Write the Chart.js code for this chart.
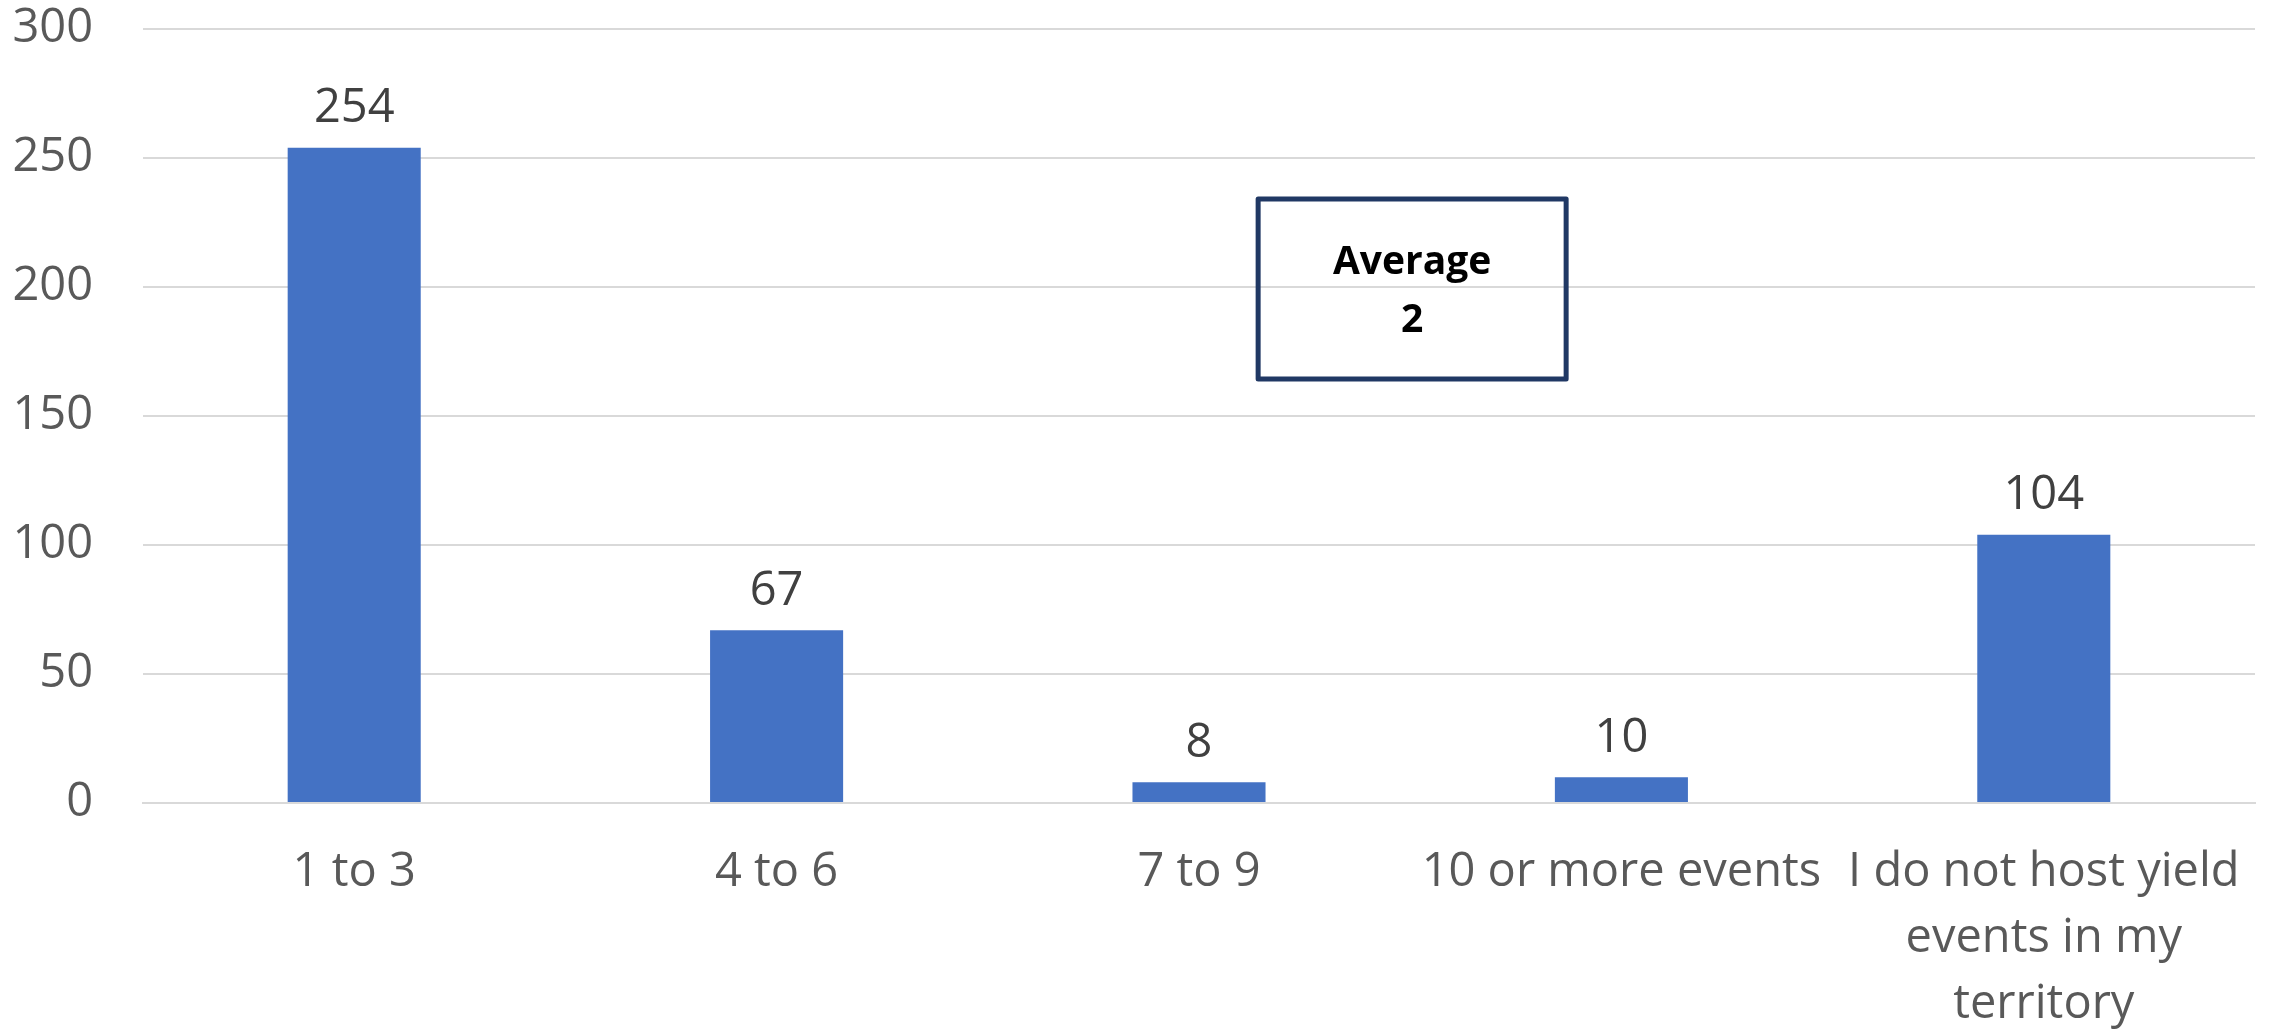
<!DOCTYPE html>
<html>
<head>
<meta charset="utf-8">
<script src="https://cdn.jsdelivr.net/npm/chart.js@4"></script>
<style>
  html, body { margin: 0; padding: 0; background: #fff; }
  #wrap { width: 2272px; height: 1029px; }
</style>
</head>
<body>
<div id="wrap"><canvas id="chart" width="2272" height="1029"></canvas></div>
<script>
// data
const categories = ["1 to 3", "4 to 6", "7 to 9", "10 or more events", ["I do not host yield", "events in my", "territory"]];
const counts = [254, 67, 8, 10, 104];
const yTicks = [0, 50, 100, 150, 200, 250, 300];
const noteLines = ["Average", "2"];

const barColor = "#4472C4";
const gridColor = "#d9d9d9";
const axisText = "#595959";
const labelText = "#404040";
const fontName = "'Open Sans', 'Noto Sans', sans-serif";

// value labels above bars
const valueLabels = {
  id: "valueLabels",
  afterDatasetsDraw(chart) {
    const ctx = chart.ctx;
    const meta = chart.getDatasetMeta(0);
    ctx.save();
    ctx.font = "47px " + fontName;
    ctx.fillStyle = labelText;
    ctx.textAlign = "center";
    ctx.textBaseline = "middle";
    meta.data.forEach((bar, i) => {
      ctx.fillText(String(counts[i]), bar.x, bar.y - 39);
    });
    ctx.restore();
  }
};

// "Average" text box
const noteBox = {
  id: "noteBox",
  afterDraw(chart) {
    const ctx = chart.ctx;
    const a = chart.chartArea;
    const x = a.left + (a.right - a.left) * 0.528;
    const y = 199;
    const w = 308, h = 180;
    ctx.save();
    ctx.strokeStyle = "#203864";
    ctx.lineWidth = 5;
    ctx.lineJoin = "round";
    ctx.strokeRect(x, y, w, h);
    ctx.fillStyle = "#000";
    ctx.font = "bold 39px " + fontName;
    ctx.textAlign = "center";
    ctx.textBaseline = "middle";
    ctx.fillText(noteLines[0], x + w / 2, y + 64);
    ctx.fillText(noteLines[1], x + w / 2, y + 122);
    ctx.restore();
  }
};

new Chart(document.getElementById("chart"), {
  type: "bar",
  data: {
    labels: categories,
    datasets: [{
      data: counts,
      backgroundColor: barColor,
      borderWidth: 0,
      barPercentage: 0.315,
      categoryPercentage: 1
    }]
  },
  options: {
    responsive: false,
    animation: false,
    devicePixelRatio: 1,
    layout: { padding: { top: 29, right: 17, left: 0, bottom: 0 } },
    plugins: {
      legend: { display: false },
      tooltip: { enabled: false }
    },
    scales: {
      x: {
        grid: { display: false, drawTicks: false },
        border: { display: true, color: gridColor, width: 2 },
        ticks: {
          color: axisText,
          font: { family: fontName, size: 47, lineHeight: 1.4 },
          padding: 37,
          maxRotation: 0,
          autoSkip: false
        },
        afterFit(scale) {
          scale.height = 226;
          scale.paddingLeft = 0;
          scale.paddingRight = 0;
        }
      },
      y: {
        min: 0,
        max: 300,
        afterBuildTicks(scale) { scale.ticks = yTicks.map(v => ({ value: v })); },
        grid: { color: gridColor, lineWidth: 2, drawTicks: false },
        border: { display: false },
        ticks: {
          color: axisText,
          font: { family: fontName, size: 47 },
          padding: 50
        },
        afterFit(scale) {
          scale.width = 143;
          scale.paddingTop = 0;
          scale.paddingBottom = 0;
        }
      }
    }
  },
  plugins: [valueLabels, noteBox]
});
</script>
</body>
</html>
